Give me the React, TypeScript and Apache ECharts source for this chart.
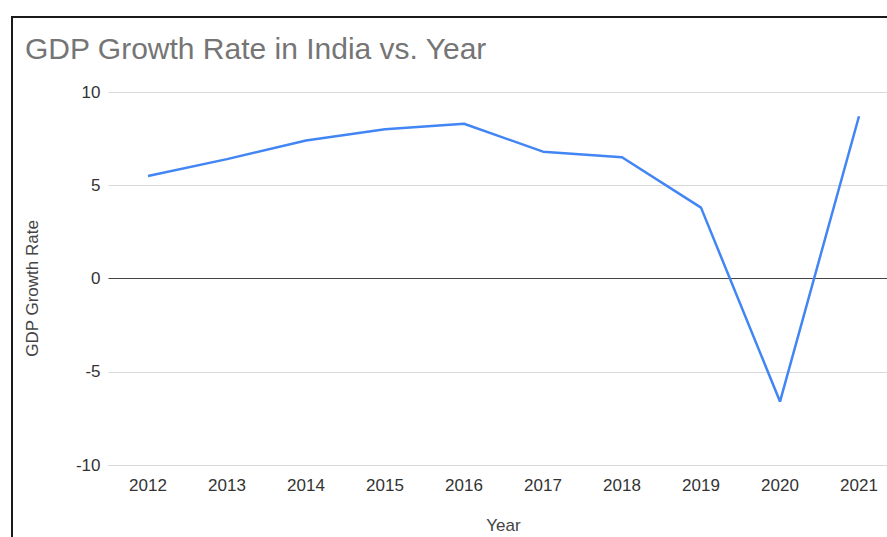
import React, { useEffect, useRef } from "react";
import * as echarts from "echarts";

const years = ["2012", "2013", "2014", "2015", "2016", "2017", "2018", "2019", "2020", "2021"];
const gdpGrowth = [5.5, 6.4, 7.4, 8.0, 8.3, 6.8, 6.5, 3.8, -6.6, 8.7];
const titleText = "GDP Growth Rate in India vs. Year";
const yAxisName = "GDP Growth Rate";
const xAxisName = "Year";

export default function App() {
  const ref = useRef<HTMLDivElement>(null);
  useEffect(() => {
    if (!ref.current) return;
    const chart = echarts.init(ref.current, undefined, { renderer: "svg" });
    chart.setOption({
      animation: false,
      backgroundColor: "#ffffff",
      title: {
        text: titleText,
        left: 25,
        top: 33,
        padding: 0,
        textStyle: { fontFamily: "Liberation Sans, Arial, sans-serif", fontSize: 30, fontWeight: "normal", color: "#757575" },
      },
      graphic: [
        {
          type: "rect",
          shape: { x: 12, y: 17, width: 900, height: 600 },
          style: { fill: "none", stroke: "#1a1a1a", lineWidth: 2 },
          z: 100,
        },
      ],
      grid: { left: 108.5, top: 92, width: 790, height: 373, containLabel: false, outerBoundsMode: "none" },
      xAxis: {
        type: "category",
        data: years,
        boundaryGap: true,
        name: xAxisName,
        nameLocation: "middle",
        nameGap: 52,
        nameTextStyle: { fontFamily: "Liberation Sans, Arial, sans-serif", fontSize: 17, color: "#444" },
        axisLine: { show: true, onZero: false, lineStyle: { color: "#d9d9d9", width: 1 } },
        axisTick: { show: false },
        axisLabel: { fontFamily: "Liberation Sans, Arial, sans-serif", fontSize: 17, color: "#333", margin: 12 },
        splitLine: { show: false },
      },
      yAxis: {
        type: "value",
        min: -10,
        max: 10,
        interval: 5,
        name: yAxisName,
        nameLocation: "middle",
        nameGap: 68,
        nameTextStyle: { fontFamily: "Liberation Sans, Arial, sans-serif", fontSize: 17, color: "#444", padding: [0, 20, 0, 0] },
        axisLine: { show: false },
        axisTick: { show: false },
        axisLabel: { fontFamily: "Liberation Sans, Arial, sans-serif", fontSize: 17, color: "#333", margin: 8 },
        splitLine: { show: true, lineStyle: { color: ["#d9d9d9", "#d9d9d9", "#444444", "#d9d9d9", "#d9d9d9"], width: 1 } },
      },
      series: [
        {
          type: "line",
          data: gdpGrowth,
          showSymbol: false,
          symbol: "none",
          lineStyle: { color: "#4285F4", width: 2.5 },
          itemStyle: { color: "#4285F4" },
        },
      ],
    });
    return () => chart.dispose();
  }, []);
  return <div ref={ref} style={{ position: "fixed", left: 0, top: 0, width: 887, height: 537 }} />;
}
